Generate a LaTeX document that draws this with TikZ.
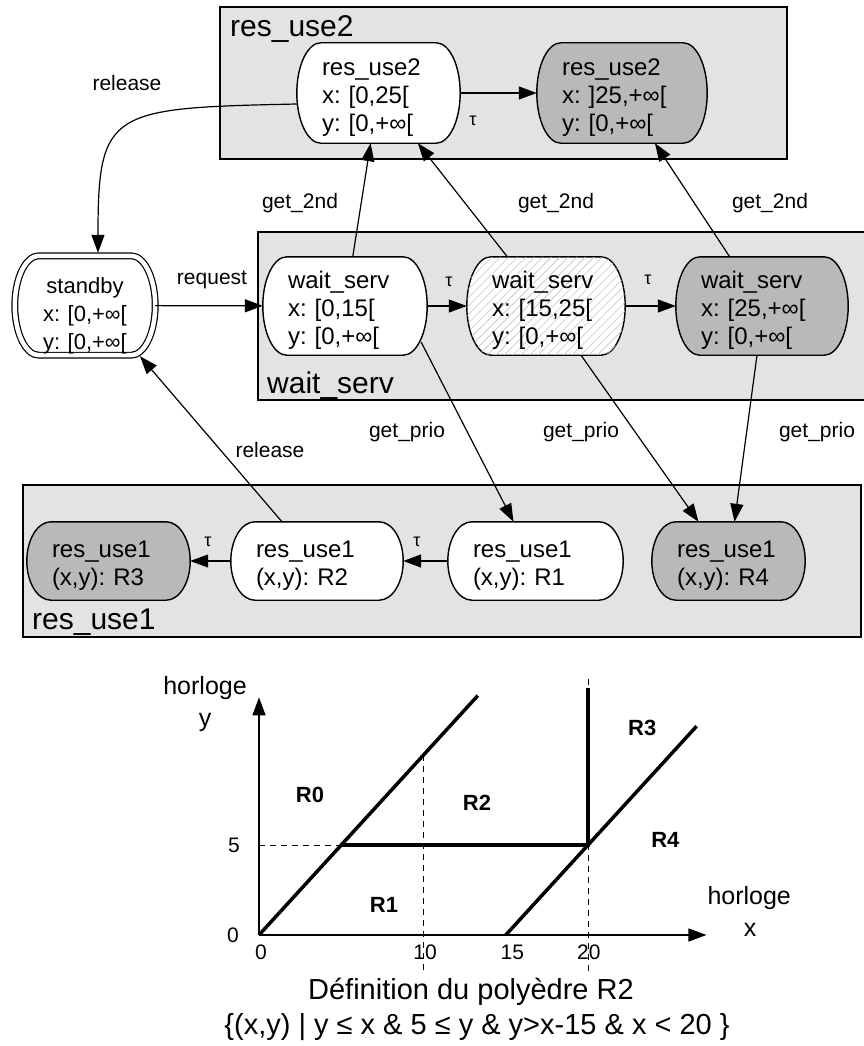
\documentclass[tikz,border=0pt]{standalone}
\usepackage{fontspec}
\setmainfont{Liberation Sans}
\usetikzlibrary{arrows.meta, calc, patterns.meta}

\definecolor{groupgray}{HTML}{E3E3E3}
\definecolor{stategray}{HTML}{B9B9B9}
\definecolor{hatchgray}{HTML}{C4C4C4}

\pgfdeclarelayer{groups}
\pgfdeclarelayer{shapes}
\pgfsetlayers{groups,shapes,main}

% outline of a state: flat top and bottom, half-elliptic ends
\newcommand{\stateshape}[2]{%
  \begin{pgfonlayer}{shapes}
    \path[draw, line width=1.4pt, #2]
      let \p1=(#1.north west), \p2=(#1.south east), \p3=(#1.center),
          \n1={0.55*(\y1-(\y3))} in
      ({\x1+24pt},\y1) -- ({\x2-24pt},\y1)
      .. controls ({\x2-10.8pt},\y1) and (\x2,{\y3+\n1*1pt}) .. (\x2,\y3)
      .. controls (\x2,{\y3-\n1*1pt}) and ({\x2-10.8pt},\y2) .. ({\x2-24pt},\y2)
      -- ({\x1+24pt},\y2)
      .. controls ({\x1+10.8pt},\y2) and (\x1,{\y3-\n1*1pt}) .. (\x1,\y3)
      .. controls (\x1,{\y3+\n1*1pt}) and ({\x1+10.8pt},\y1) .. ({\x1+24pt},\y1)
      -- cycle;
  \end{pgfonlayer}}

\begin{document}
\frenchspacing
\begin{tikzpicture}[x=1pt, y=-1pt,
  textlift/.store in=\statelift, textlift=25pt,
  stbox/.style 2 args={rectangle, inner xsep=25pt, inner ysep=0pt, text width=#1,
    minimum height=#2, align=left, font=\fontsize{24pt}{28pt}\selectfont,
    execute at begin node={\rule{0pt}{\statelift}}},
  group/.style={draw, line width=1.4pt, fill=groupgray},
  grouptitle/.style={anchor=base west, inner sep=0pt, font=\fontsize{30pt}{30pt}\selectfont},
  lbl/.style={inner sep=0pt, font=\fontsize{21pt}{21pt}\selectfont},
  taulbl/.style={inner sep=0pt, font=\fontsize{18pt}{18pt}\selectfont},
  arr/.style={-{Triangle[length=18pt,width=13pt]}, line width=1.2pt},
  axis/.style={-{Triangle[length=18pt,width=13pt]}, line width=1.5pt},
  bound/.style={line width=3.5pt},
  guide/.style={dash pattern=on 6pt off 5pt, line width=0.9pt},
  axislbl/.style={inner sep=0pt, font=\fontsize{25pt}{25pt}\selectfont},
  ticklbl/.style={inner sep=0pt, font=\fontsize{21pt}{21pt}\selectfont},
  region/.style={inner sep=0pt, font=\bfseries\fontsize{22pt}{22pt}\selectfont},
  deftext/.style={inner sep=0pt, font=\fontsize{29pt}{29pt}\selectfont}]
  \useasboundingbox (0,0) rectangle (863,1046);

  % Groups
  \begin{pgfonlayer}{groups}
    \fill[white] (0,0) rectangle (863,1046);
    \draw[group] (220,7) rectangle (787,159);
    \draw[group] (258,232) rectangle (868,400);
    \draw[group] (23,485) rectangle (861,637);
  \end{pgfonlayer}
  \node[grouptitle] (t2) at (230,37) {res\_use2};
  \node[grouptitle] (tw) at (267,393) {wait\_serv};
  \node[grouptitle] (t1) at (32,629) {res\_use1};

  % States
  \node[stbox={113pt}{100pt}] (A) at (378.5,93) {res\_use2\\x: [0,25[\\y: [0,+∞[};
  \node[stbox={120pt}{100pt}] (B) at (622,93) {res\_use2\\x: ]25,+∞[\\y: [0,+∞[};
  \node[stbox={130pt}{99pt}, inner xsep=5pt, align=center, textlift=36pt,
    font=\fontsize{22pt}{28pt}\selectfont] (S) at (85,305.5) {standby\\x: [0,+∞[\\y: [0,+∞[};
  \node[stbox={114pt}{98pt}] (W1) at (345,306) {wait\_serv\\x: [0,15[\\y: [0,+∞[};
  \node[stbox={108pt}{98pt}] (W2) at (546,306) {wait\_serv\\x: [15,25[\\y: [0,+∞[};
  \node[stbox={122pt}{98pt}] (W3) at (762,306) {wait\_serv\\x: [25,+∞[\\y: [0,+∞[};
  \node[stbox={113pt}{78pt}] (R3) at (108.5,561) {res\_use1\\(x,y): R3};
  \node[stbox={122pt}{78pt}] (R2) at (317,561) {res\_use1\\(x,y): R2};
  \node[stbox={125pt}{78pt}] (R1) at (535.5,561) {res\_use1\\(x,y): R1};
  \node[stbox={103pt}{78pt}] (R4) at (728.5,561) {res\_use1\\(x,y): R4};

  \stateshape{A}{fill=white}
  \stateshape{B}{fill=stategray}
  \stateshape{S}{fill=white, double=white, double distance=4.5pt, line width=1.2pt}
  \stateshape{W1}{fill=white}
  \stateshape{W2}{fill=white, postaction={pattern={Lines[angle=45,distance=6pt,line width=0.6pt]}, pattern color=hatchgray}}
  \stateshape{W3}{fill=stategray}
  \stateshape{R3}{fill=stategray}
  \stateshape{R2}{fill=white}
  \stateshape{R1}{fill=white}
  \stateshape{R4}{fill=stategray}

  % Transitions
  \draw[arr] ([yshift=-11pt]A.west) .. controls +(-187pt,-4pt) and +(0pt,143pt) .. ([xshift=13pt,yshift=3pt]S.north);
  \draw[arr] (A) -- (B);
  \draw[arr] (S) -- (W1);
  \draw[arr] (W1) -- (W2);
  \draw[arr] (W2) -- (W3);
  \draw[arr] (W1) -- (A);
  \draw[arr] (W2) -- (A);
  \draw[arr] (W3) -- (B);
  \draw[arr] ([xshift=-6pt,yshift=13pt]W1.south east) -- ([xshift=-22pt]R1.north);
  \draw[arr] ([xshift=35pt]W2.south) -- ([xshift=-30pt]R4.north);
  \draw[arr] ([xshift=-5pt]W3.south) -- ([xshift=6pt]R4.north);
  \draw[arr] ([xshift=-35pt]R2.north) -- ([xshift=55pt,yshift=-1pt]S.south);
  \draw[arr] (R1) -- (R2);
  \draw[arr] (R2) -- (R3);

  % Labels
  \node[lbl] (relA) at (127,83) {release};
  \node[taulbl] (tauA) at (473,121) {τ};
  \node[lbl] (getA) at (300,203) {get\_2nd};
  \node[lbl] (getB) at (556,203) {get\_2nd};
  \node[lbl] (getC) at (770,203) {get\_2nd};
  \node[lbl] (req) at (212,280) {request};
  \node[taulbl] (tauW1) at (449,282) {τ};
  \node[taulbl] (tauW2) at (648,280) {τ};
  \node[lbl] (prioA) at (407,432) {get\_prio};
  \node[lbl] (prioB) at (581,432) {get\_prio};
  \node[lbl] (prioC) at (817,432) {get\_prio};
  \node[lbl] (relR) at (270,450) {release};
  \node[taulbl] (tauR2) at (208,542) {τ};
  \node[taulbl] (tauR1) at (417,542) {τ};

  % Clock regions
  \begin{scope}[shift={(259,935)}, x=16.45pt, y=18pt]
    \draw[guide] (0,5) -- (5,5);
    \draw[guide] (10,10) -- (10,-2.05);
    \draw[guide] (20,14.2) -- (20,-2.05);
    \draw[axis] (0,0) -- (0,13.2);
    \draw[axis] (0,0) -- (27.2,0);
    \draw[bound] (0,0) -- (13.3,13.3);
    \draw[bound] (5,5) -- (20,5) -- (20,13.7);
    \draw[bound] (15,0) -- (26.6,11.6);
    \node[axislbl] (hy) at (-3.28,13.72) {horloge};
    \node[axislbl] (ly) at (-3.28,11.83) {y};
    \node[axislbl] (hx) at (29.8,2.06) {horloge};
    \node[axislbl] (lx) at (29.85,0.28) {x};
    \node[ticklbl] (y0) at (-1.58,0) {0};
    \node[ticklbl] (y5) at (-1.52,5) {5};
    \node[ticklbl] (x0) at (0.12,-0.94) {0};
    \node[ticklbl] (x10) at (10.1,-0.94) {10};
    \node[ticklbl] (x15) at (15.4,-0.94) {15};
    \node[ticklbl] (x20) at (20.05,-0.94) {20};
    \node[region] (r0) at (3.1,7.78) {R0};
    \node[region] (r1) at (7.6,1.67) {R1};
    \node[region] (r2) at (13.25,7.33) {R2};
    \node[region] (r3) at (23.3,11.5) {R3};
    \node[region] (r4) at (24.7,5.28) {R4};
  \end{scope}
  \node[deftext] (deftitle) at (471,992) {Définition du polyèdre R2};
  \node[deftext] (defset) at (477,1027) {\{(x,y) | y ≤ x \& 5 ≤ y \& y>x-15 \& x < 20 \}};
\end{tikzpicture}
\end{document}
